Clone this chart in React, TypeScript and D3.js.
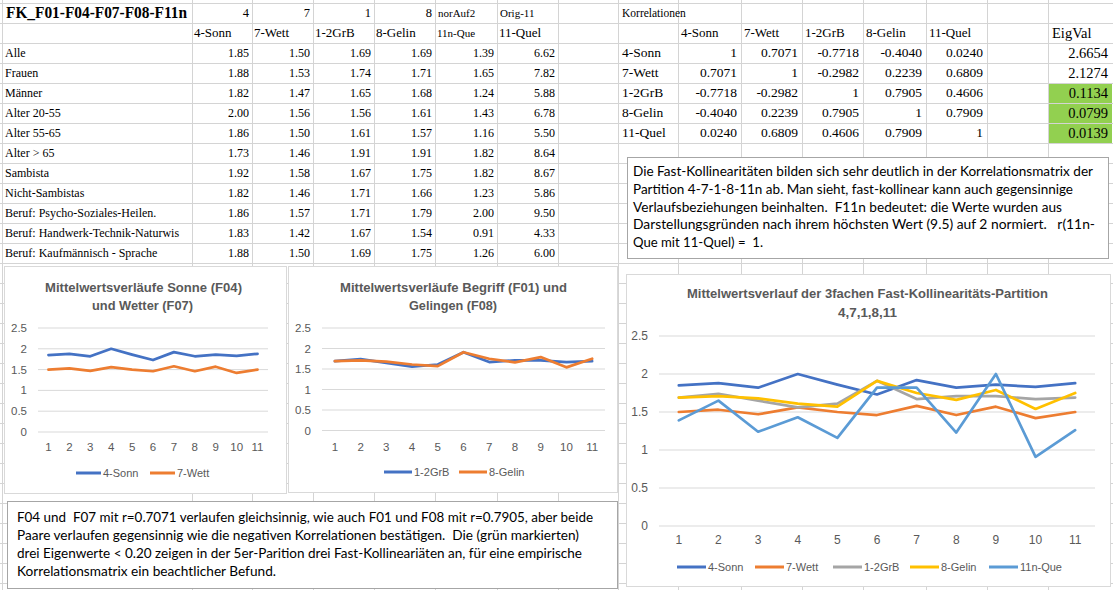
import React from 'react';
import * as d3 from 'd3';

// ---- data ----
const groups = [
  'Alle', 'Frauen', 'Männer', 'Alter 20-55', 'Alter 55-65', 'Alter > 65',
  'Sambista', 'Nicht-Sambistas', 'Beruf: Psycho-Soziales-Heilen.',
  'Beruf: Handwerk-Technik-Naturwis', 'Beruf: Kaufmännisch - Sprache',
];
const xCats = ['1', '2', '3', '4', '5', '6', '7', '8', '9', '10', '11'];
const sonn = [1.85, 1.88, 1.82, 2.0, 1.86, 1.73, 1.92, 1.82, 1.86, 1.83, 1.88];
const wett = [1.5, 1.53, 1.47, 1.56, 1.5, 1.46, 1.58, 1.46, 1.57, 1.42, 1.5];
const grb = [1.69, 1.74, 1.65, 1.56, 1.61, 1.91, 1.67, 1.71, 1.71, 1.67, 1.69];
const gelin = [1.69, 1.71, 1.68, 1.61, 1.57, 1.91, 1.75, 1.66, 1.79, 1.54, 1.75];
const que = [1.39, 1.65, 1.24, 1.43, 1.16, 1.82, 1.82, 1.23, 2.0, 0.91, 1.26];
const quel = [6.62, 7.82, 5.88, 6.78, 5.5, 8.64, 8.67, 5.86, 9.5, 4.33, 6.0];

const sheetTitle = 'FK_F01-F04-F07-F08-F11n';
const topRow = ['4', '7', '1', '8', 'norAuf2', 'Orig-11'];
const tableHeads = ['4-Sonn', '7-Wett', '1-2GrB', '8-Gelin', '11n-Que', '11-Quel'];

const corrNames = ['4-Sonn', '7-Wett', '1-2GrB', '8-Gelin', '11-Quel'];
const corrMatrix = [
  [1, 0.7071, -0.7718, -0.404, 0.024],
  [0.7071, 1, -0.2982, 0.2239, 0.6809],
  [-0.7718, -0.2982, 1, 0.7905, 0.4606],
  [-0.404, 0.2239, 0.7905, 1, 0.7909],
  [0.024, 0.6809, 0.4606, 0.7909, 1],
];
const eigVals = [2.6654, 2.1274, 0.1134, 0.0799, 0.0139];

const yTicks = [0, 0.5, 1, 1.5, 2, 2.5];

const note1 = [
  { t: 'Die Fast-Kollinearitäten bilden sich sehr deutlich in der Korrelationsmatrix der', w: 460 },
  { t: 'Partition 4-7-1-8-11n ab. Man sieht, fast-kollinear kann auch gegensinnige', w: 440 },
  { t: 'Verlaufsbeziehungen beinhalten.  F11n bedeutet: die Werte wurden aus', w: 429 },
  { t: 'Darstellungsgründen nach ihrem höchsten Wert (9.5) auf 2 normiert.   r(11n-', w: 462 },
  { t: 'Que mit 11-Quel) =  1.', w: 130 },
];
const note2 = [
  { t: 'F04 und  F07 mit r=0.7071 verlaufen gleichsinnig, wie auch F01 und F08 mit r=0.7905, aber beide', w: 576 },
  { t: 'Paare verlaufen gegensinnig wie die negativen Korrelationen bestätigen.  Die (grün markierten)', w: 562 },
  { t: 'drei Eigenwerte < 0.20 zeigen in der 5er-Parition drei Fast-Kollineariäten an, für eine empirische', w: 565 },
  { t: 'Korrelationsmatrix ein beachtlicher Befund.', w: 259 },
];

const C = {
  blue: '#4472C4', orange: '#ED7D31', gray: '#A5A5A5', yellow: '#FFC000', lblue: '#5B9BD5',
};

// ---- sheet layout ----
const colX = [2, 192, 252, 313, 374, 435, 497, 558, 618, 678, 741, 802, 863, 926, 987, 1048, 1113];
const rowTop = 3;
const rowH = 20;
const rowLines = d3.range(rowTop, 590, rowH);
const rowMid = (r: number) => rowTop + rowH * r + 10;

const serif = '"Liberation Serif", "Times New Roman", serif';
const sans = '"Liberation Sans", Arial, sans-serif';
const body = 'Lato, "Open Sans", sans-serif';

type Series = { name: string; values: number[]; color: string };
type TitleLine = { text: string; x: number; y: number; w: number };

interface ChartProps {
  box: { x: number; y: number; w: number; h: number };
  plot: { l: number; r: number; t: number; b: number };
  xLabelY: number;
  yLabelX: number;
  titles: TitleLine[];
  series: Series[];
  legendX: number[];
  legendY: number;
  legendLen: number;
  fs: number;
}

const LineChart: React.FC<ChartProps> = ({ box, plot, xLabelY, yLabelX, titles, series, legendX, legendY, legendLen, fs }) => {
  const x = d3.scalePoint<string>().domain(xCats).range([plot.l, plot.r]).padding(0.5);
  const y = d3.scaleLinear().domain([0, 2.5]).range([plot.b, plot.t]);
  const line = d3.line<number>()
    .x((_, i) => x(xCats[i]) as number)
    .y(d => y(d));

  return (
    <g>
      <rect x={box.x} y={box.y} width={box.w} height={box.h} fill="#fff" stroke="#d9d9d9" />
      {titles.map((t, i) => (
        <text key={i} x={t.x} y={t.y + 5} textLength={t.w} lengthAdjust="spacingAndGlyphs"
          fontFamily={sans} fontWeight="bold" fontSize={13} fill="#595959">{t.text}</text>
      ))}
      {yTicks.map(v => (
        <g key={v}>
          <line x1={plot.l} x2={plot.r} y1={y(v)} y2={y(v)} stroke="#d9d9d9" strokeWidth={1} />
          <text x={yLabelX} y={y(v) + 4} textAnchor="end" fontFamily={sans} fontSize={fs} fill="#595959">{v}</text>
        </g>
      ))}
      {xCats.map(c => (
        <text key={c} x={x(c)} y={xLabelY + 4} textAnchor="middle" fontFamily={sans} fontSize={fs} fill="#595959">{c}</text>
      ))}
      {series.map(s => (
        <path key={s.name} d={line(s.values) || ''} fill="none" stroke={s.color} strokeWidth={2.7}
          strokeLinejoin="round" strokeLinecap="round" />
      ))}
      {series.map((s, i) => (
        <g key={s.name}>
          <line x1={legendX[i]} x2={legendX[i] + legendLen} y1={legendY} y2={legendY} stroke={s.color} strokeWidth={3} />
          <text x={legendX[i] + legendLen + 2} y={legendY + 4} fontFamily={sans} fontSize={11} fill="#595959">{s.name}</text>
        </g>
      ))}
    </g>
  );
};

const App: React.FC = () => {
  const fmtCorr = (v: number) => (v === 1 ? '1' : v.toFixed(4));
  const tableCols = [sonn, wett, grb, gelin, que, quel];

  return (
    <svg width={1113} height={590} style={{ position: 'fixed', left: 0, top: 0, background: '#fff' }}>
      <rect width={1113} height={590} fill="#fff" />
      {/* sheet grid */}
      {rowLines.map(yy => <line key={'r' + yy} x1={0} x2={1113} y1={yy + 0.5} y2={yy + 0.5} stroke="#d4d4d4" />)}
      {colX.map(xx => <line key={'c' + xx} x1={xx + 0.5} x2={xx + 0.5} y1={0} y2={590} stroke="#d4d4d4" />)}

      {/* eigenvalue highlight */}
      {eigVals.map((v, i) => v < 0.2 ? (
        <rect key={'g' + i} x={colX[15] + 1} y={rowTop + rowH * (i + 2) + 1} width={colX[16] - colX[15] - 2} height={rowH - 1} fill="#92D050" />
      ) : null)}

      {/* left table */}
      <text x={6} y={rowMid(0) + 5} textLength={181} lengthAdjust="spacingAndGlyphs"
        fontFamily={serif} fontWeight="bold" fontSize={16}>{sheetTitle}</text>
      {topRow.map((t, i) => {
        const isNum = !isNaN(Number(t));
        return (
          <text key={'t' + i} x={isNum ? colX[i + 2] - 3 : colX[i + 1] + 3} y={rowMid(0) + 4}
            textAnchor={isNum ? 'end' : 'start'} fontFamily={serif} fontSize={isNum ? 12.5 : 11}>{t}</text>
        );
      })}
      {tableHeads.map((t, i) => (
        <text key={'h' + i} x={colX[i + 1] + 2} y={rowMid(1) + 4} fontFamily={serif} fontSize={t === '11n-Que' ? 11 : 13}>{t}</text>
      ))}
      {groups.map((g, r) => (
        <g key={g}>
          <text x={5} y={rowMid(r + 2) + 4} fontFamily={serif} fontSize={12}>{g}</text>
          {tableCols.map((col, c) => (
            <text key={c} x={colX[c + 2] - 3} y={rowMid(r + 2) + 4} textAnchor="end" fontFamily={serif} fontSize={12}>{col[r].toFixed(2)}</text>
          ))}
        </g>
      ))}

      {/* correlation table */}
      <text x={colX[8] + 4} y={rowMid(0) + 4} fontFamily={serif} fontSize={11.5}>Korrelationen</text>
      {corrNames.map((n, i) => (
        <text key={'ch' + i} x={colX[i + 9] + 3} y={rowMid(1) + 4} fontFamily={serif} fontSize={13}>{n}</text>
      ))}
      <text x={colX[15] + 4} y={rowMid(1) + 5} fontFamily={serif} fontSize={14.5}>EigVal</text>
      {corrNames.map((n, r) => (
        <g key={'cr' + r}>
          <text x={colX[8] + 4} y={rowMid(r + 2) + 4} fontFamily={serif} fontSize={13.5}>{n}</text>
          {corrMatrix[r].map((v, c) => (
            <text key={c} x={colX[c + 10] - 4} y={rowMid(r + 2) + 4} textAnchor="end" fontFamily={serif} fontSize={13.5}>{fmtCorr(v)}</text>
          ))}
          <text x={colX[16] - 5} y={rowMid(r + 2) + 5} textAnchor="end" fontFamily={serif} fontSize={14.5}>{eigVals[r].toFixed(4)}</text>
        </g>
      ))}

      {/* note box 1 */}
      <rect x={627.5} y={157.5} width={481} height={101} fill="#fff" stroke="#a6a6a6" />
      {note1.map((l, i) => (
        <text key={'n1' + i} x={633} y={171.7 + 17.75 * i + 4.5} textLength={l.w} lengthAdjust="spacingAndGlyphs"
          fontFamily={body} fontSize={13} style={{ whiteSpace: 'pre' }}>{l.t}</text>
      ))}

      {/* charts */}
      <LineChart
        box={{ x: 4.5, y: 266.5, w: 282, h: 227 }}
        plot={{ l: 38, r: 268, t: 328, b: 432 }}
        xLabelY={447} yLabelX={27} fs={11.5}
        titles={[
          { text: 'Mittelwertsverläufe Sonne (F04)', x: 45, y: 287, w: 197 },
          { text: 'und Wetter (F07)', x: 92, y: 305, w: 101 },
        ]}
        series={[
          { name: '4-Sonn', values: sonn, color: C.blue },
          { name: '7-Wett', values: wett, color: C.orange },
        ]}
        legendX={[76, 150]} legendY={473} legendLen={25}
      />
      <LineChart
        box={{ x: 288.5, y: 266.5, w: 329, h: 226 }}
        plot={{ l: 322, r: 605, t: 328, b: 430.5 }}
        xLabelY={447} yLabelX={311} fs={11.5}
        titles={[
          { text: 'Mittelwertsverläufe Begriff (F01) und', x: 340, y: 287, w: 227 },
          { text: 'Gelingen (F08)', x: 409, y: 305, w: 88 },
        ]}
        series={[
          { name: '1-2GrB', values: grb, color: C.blue },
          { name: '8-Gelin', values: gelin, color: C.orange },
        ]}
        legendX={[384, 459]} legendY={472} legendLen={28}
      />
      <LineChart
        box={{ x: 626.5, y: 274.5, w: 484, h: 312 }}
        plot={{ l: 659, r: 1095, t: 336, b: 526 }}
        xLabelY={540} yLabelX={648} fs={12}
        titles={[
          { text: 'Mittelwertsverlauf der 3fachen Fast-Kollinearitäts-Partition', x: 687, y: 293, w: 361 },
          { text: '4,7,1,8,11', x: 838, y: 312, w: 59 },
        ]}
        series={[
          { name: '4-Sonn', values: sonn, color: C.blue },
          { name: '7-Wett', values: wett, color: C.orange },
          { name: '1-2GrB', values: grb, color: C.gray },
          { name: '8-Gelin', values: gelin, color: C.yellow },
          { name: '11n-Que', values: que, color: C.lblue },
        ]}
        legendX={[677, 755, 833, 910, 989]} legendY={567} legendLen={29}
      />

      {/* note box 2 */}
      <rect x={7.5} y={501.5} width={610} height={87} fill="#fff" stroke="#a6a6a6" />
      {note2.map((l, i) => (
        <text key={'n2' + i} x={17} y={517.7 + 17.8 * i + 4.5} textLength={l.w} lengthAdjust="spacingAndGlyphs"
          fontFamily={body} fontSize={13} style={{ whiteSpace: 'pre' }}>{l.t}</text>
      ))}
    </svg>
  );
};

export default App;
